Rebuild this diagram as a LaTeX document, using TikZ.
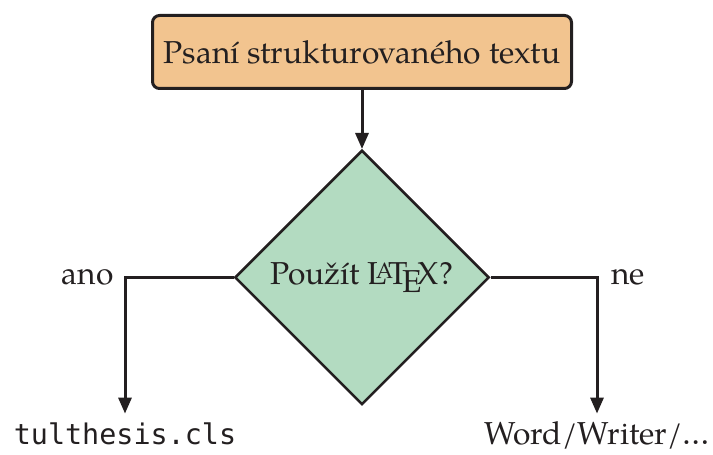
\documentclass[tikz,border=0pt]{standalone}
\usepackage{fontspec}
\setmainfont{TeX Gyre Pagella}
\setmonofont{DejaVu Sans Mono}
\usetikzlibrary{arrows.meta,shapes.geometric}
\definecolor{boxfill}{RGB}{242,196,143}
\definecolor{decfill}{RGB}{179,219,193}
\definecolor{ink}{RGB}{35,31,32}
\begin{document}
\begin{tikzpicture}[x=0.5pt,y=0.5pt,
  font=\fontsize{15.85pt}{19pt}\selectfont,
  every node/.style={text=ink},
  startbox/.style={draw=ink, line width=1.5pt, fill=boxfill, rounded corners=3.5pt,
    minimum width=209.5pt, minimum height=36.5pt, inner sep=0pt},
  decision/.style={diamond, aspect=1, draw=ink, line width=1.25pt, fill=decfill,
    minimum width=127.25pt, minimum height=127.25pt, inner sep=0pt},
  conn/.style={draw=ink, line width=1.5pt, -{Triangle[length=8pt,width=6.5pt]}},
  outcome/.style={anchor=base, inner sep=0pt, text height=15.5pt},
  monotext/.style={font=\fontsize{14.2pt}{17pt}\selectfont\ttfamily}]
\useasboundingbox (0,0) rectangle (713,455);
\node[startbox] (start) at (362,403) {Psaní strukturovaného textu};
\node[decision] (dec) at (362,177.5) {Použít \LaTeX?};
\node[outcome, monotext] (tul) at (125,10) {tulthesis.cls};
\node[outcome] (word) at (597,10) {Word/Writer/\dots};
\draw[conn] (start) -- (dec);
\draw[conn] (dec.west) -| node[pos=0.5, anchor=east, inner xsep=5pt, inner ysep=0pt] (ano) {ano} (tul.north);
\draw[conn] (dec.east) -| node[pos=0.5, anchor=west, inner xsep=6.5pt, inner ysep=0pt] (ne) {ne} (word.north);
\end{tikzpicture}
\end{document}
